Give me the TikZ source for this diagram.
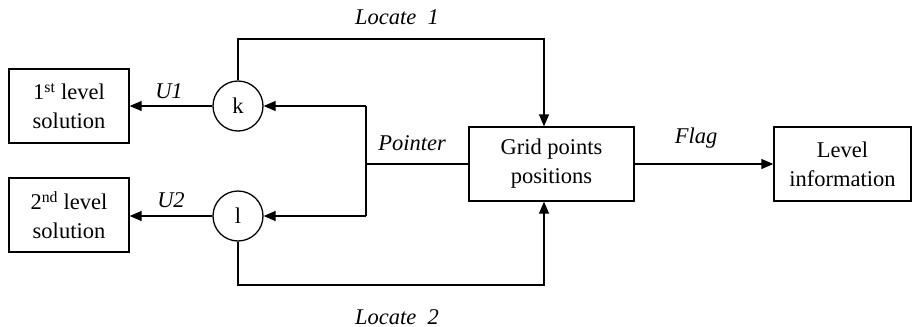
\documentclass[tikz,border=0pt]{standalone}
\usepackage{fontspec}
\setmainfont{Liberation Serif}
\usetikzlibrary{arrows.meta}
\begin{document}
\begin{tikzpicture}[x=1pt,y=-1pt,
  every node/.style={font=\fontsize{22.5}{29}\selectfont},
  blockbox/.style={draw,line width=1.3pt,align=center,inner sep=0pt,
    minimum width=#1,minimum height=74pt},
  opcircle/.style={draw,circle,line width=1.3pt,minimum size=50pt,inner sep=0pt},
  flow/.style={line width=1.3pt,-{Triangle[length=12pt,width=10pt]}},
  wire/.style={line width=1.3pt},
  lbl/.style={anchor=base,font=\fontsize{22.5}{29}\selectfont\itshape}]
\useasboundingbox (0,0) rectangle (914,327);

% blocks
\node[blockbox=120pt] (sol1) at (69,106) {1\textsuperscript{st} level\\solution};
\node[blockbox=120pt] (sol2) at (69,215) {2\textsuperscript{nd} level\\solution};
\node[blockbox=165pt] (grid) at (551.5,164) {Grid points\\positions};
\node[blockbox=137pt] (info) at (842.5,164) {Level\\information};

% selector circles
\node[opcircle] (k) at (238,106) {k};
\node[opcircle] (l) at (238,216) {l};

% pointer bus
\coordinate (pt) at (366,106);
\coordinate (pb) at (366,216);
\coordinate (pm) at (366,164);
\draw[wire] (pt) -- (pb);
\draw[wire] (pm) -- (grid.west);
\draw[flow] (pt) -- (k.east);
\draw[flow] (pb) -- (l.east);

% outputs of the selectors
\draw[flow] (k.west) -- (sol1.east |- k.west);
\draw[flow] (l.west) -- (sol2.east |- l.west);

% locate lines
\coordinate (t1) at (544,39);
\coordinate (t2) at (544,285);
\draw[flow] (k.north) |- (t1) -- (t1 |- grid.north);
\draw[flow] (l.south) |- (t2) -- (t2 |- grid.south);

% flag
\draw[flow] (grid.east) -- (info.west);

% labels
\node[lbl] (lu1) at (169,98) {U1};
\node[lbl] (lu2) at (171,207) {U2};
\node[lbl] (lptr) at (412,150) {Pointer};
\node[lbl] (lflag) at (696,143) {Flag};
\node[lbl] (lloc1) at (397,24) {Locate~~1};
\node[lbl] (lloc2) at (397,324) {Locate~~2};
\end{tikzpicture}
\end{document}
